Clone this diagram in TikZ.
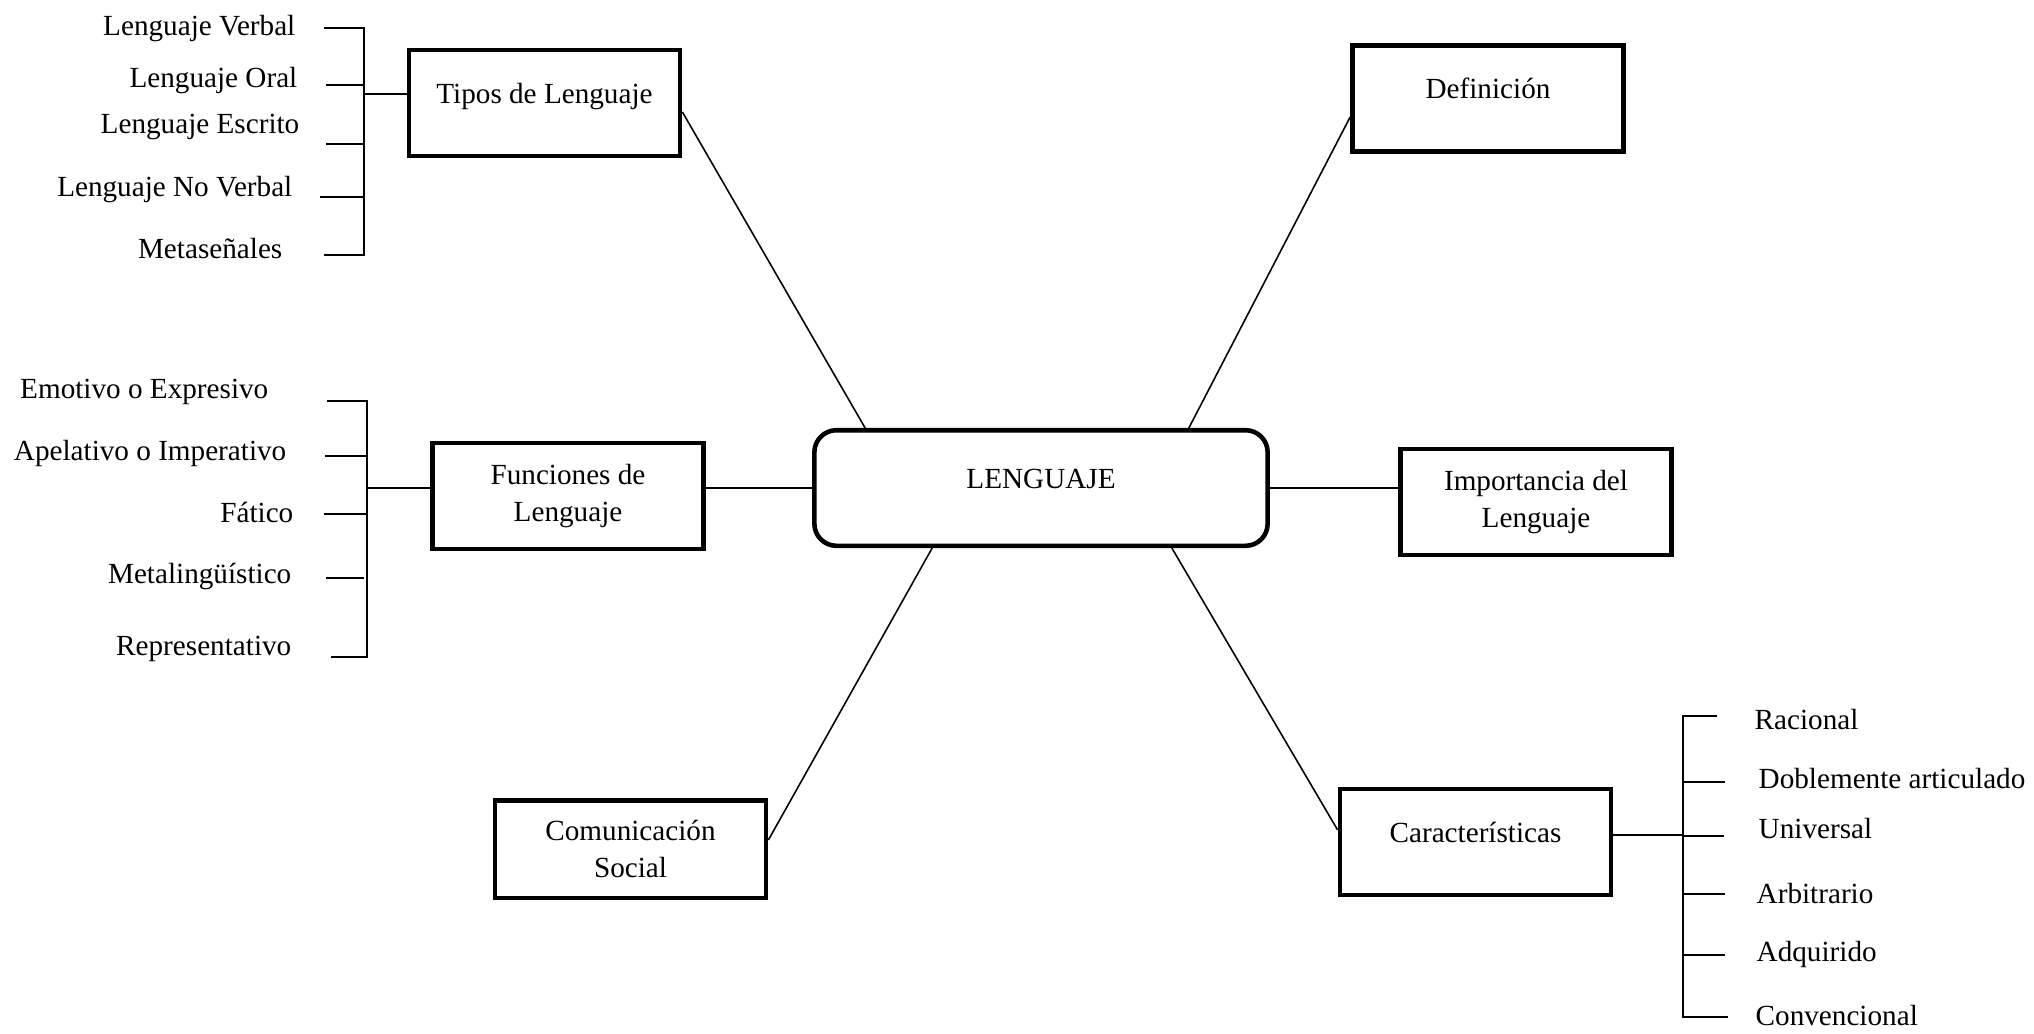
\documentclass[tikz,border=0pt]{standalone}
\usepackage{fontspec}
\setmainfont{Liberation Serif}
\tikzset{
  caja/.style={draw, line width=1.3pt, minimum width=2.71cm, minimum height=1.06cm, align=center, inner sep=0pt},
  uno/.style={text height=0.7em, text depth=0.7em},
  hoja/.style={inner sep=0pt},
  rama/.style={line width=0.6pt},
  enlace/.style={line width=0.45pt}
}

\begin{document}
\begin{tikzpicture}[x=0.01cm, y=-0.01cm, font=\fontsize{8.3}{10.5}\selectfont]
    \useasboundingbox (0,0) rectangle (2034,1033);

    \node[caja, uno, rounded corners=0.22cm, minimum width=4.53cm, minimum height=1.155cm] (leng) at (1041,488) {LENGUAJE};
    \node[caja, uno] (tipos) at (544.5,103) {Tipos de Lenguaje};
    \node[caja, uno] (defin) at (1488,98.5) {Definición};
    \node[caja] (func) at (568,496) {Funciones de\\Lenguaje};
    \node[caja] (impor) at (1536,502) {Importancia del\\Lenguaje};
    \node[caja, minimum height=0.975cm] (comun) at (630.5,849) {Comunicación\\Social};
    \node[caja, uno] (caract) at (1475.5,842) {Características};

    \draw[enlace] ([yshift=-0.09cm]tipos.east) -- ([xshift=0.53cm]leng.north west);
    \draw[enlace] ([yshift=-0.185cm]defin.west) -- ([xshift=-0.81cm]leng.north east);
    \draw[rama] (func.east |- leng.west) -- (leng.west);
    \draw[rama] (leng.east) -- (leng.east -| impor.west);
    \draw[enlace] ([yshift=0.09cm]comun.east) -- ([xshift=1.2cm]leng.south west);
    \draw[enlace] ([yshift=0.12cm]caract.west) -- ([xshift=-0.98cm]leng.south east);

    % tipos de lenguaje
    \coordinate (tb) at (364,94);
    \draw[rama] (tb) -- (tb -| tipos.west);
    \draw[rama] (324,28) -- (364,28) -- (364,255) -- (324,255);
    \draw[rama] (326,85) -- (364,85);
    \draw[rama] (326,144) -- (364,144);
    \draw[rama] (320,197) -- (364,197);
    \node[hoja, anchor=base east] (t1) at (296,35) {Lenguaje Verbal};
    \node[hoja, anchor=base east] (t2) at (298,87) {Lenguaje Oral};
    \node[hoja, anchor=base east] (t3) at (300,133) {Lenguaje Escrito};
    \node[hoja, anchor=base east] (t4) at (293,196) {Lenguaje No Verbal};
    \node[hoja, anchor=base east] (t5) at (283,258) {Metaseñales};

    % funciones de lenguaje
    \coordinate (fb) at (367,488);
    \draw[rama] (fb) -- (fb -| func.west);
    \draw[rama] (327,401) -- (367,401) -- (367,657) -- (331,657);
    \draw[rama] (325,456) -- (367,456);
    \draw[rama] (324,514) -- (367,514);
    \draw[rama] (326,578) -- (364,578);
    \node[hoja, anchor=base east] (f1) at (269,398) {Emotivo o Expresivo};
    \node[hoja, anchor=base east] (f2) at (287,460) {Apelativo o Imperativo};
    \node[hoja, anchor=base east] (f3) at (294,522) {Fático};
    \node[hoja, anchor=base east] (f4) at (292,583) {Metalingüístico};
    \node[hoja, anchor=base east] (f5) at (292,655) {Representativo};

    % caracteristicas
    \coordinate (cb) at (1683,835);
    \draw[rama] (caract.east |- cb) -- (cb);
    \draw[rama] (1717,716) -- (1683,716) -- (1683,1017) -- (1728,1017);
    \draw[rama] (1683,782) -- (1725,782);
    \draw[rama] (1683,836) -- (1724,836);
    \draw[rama] (1683,894) -- (1725,894);
    \draw[rama] (1683,955) -- (1725,955);
    \node[hoja, anchor=base west] (c1) at (1754,729) {Racional};
    \node[hoja, anchor=base west] (c2) at (1758,788) {Doblemente articulado};
    \node[hoja, anchor=base west] (c3) at (1758,838) {Universal};
    \node[hoja, anchor=base west] (c4) at (1756,903) {Arbitrario};
    \node[hoja, anchor=base west] (c5) at (1756,961) {Adquirido};
    \node[hoja, anchor=base west] (c6) at (1755,1025) {Convencional};

\end{tikzpicture}
\end{document}
